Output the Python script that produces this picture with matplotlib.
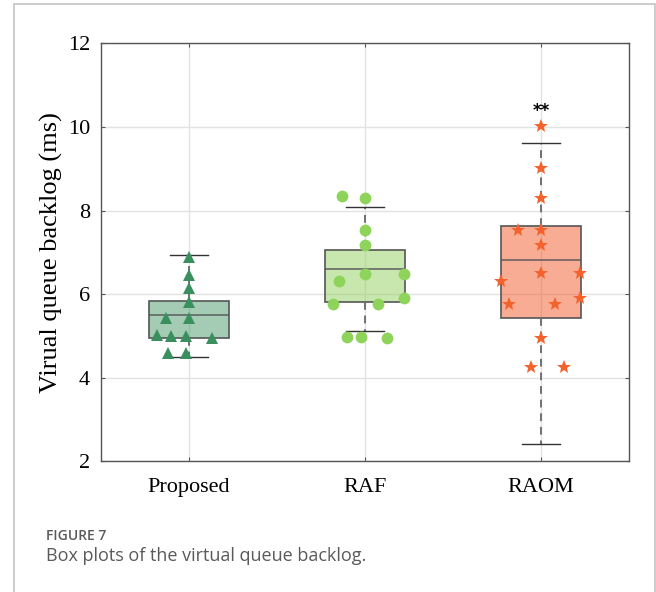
import numpy as np
import matplotlib
matplotlib.use('Agg')
import matplotlib.pyplot as plt
from matplotlib.patches import Rectangle

# groups and box statistics
groups = ['Proposed', 'RAF', 'RAOM']
whislo = [4.50, 5.12, 2.42]
q1 = [4.95, 5.82, 5.42]
med = [5.50, 6.61, 6.82]
q3 = [5.83, 7.05, 7.64]
whishi = [6.93, 8.09, 9.62]

# scattered samples and horizontal jitter
prop_vals = [6.89, 6.46, 6.15, 5.82, 5.44, 5.44, 5.02, 4.99, 4.99, 4.96, 4.58, 4.58]
prop_jit = [0, 0, 0, 0, -0.13, 0, -0.18, -0.10, -0.02, 0.13, -0.12, -0.02]
raf_vals = [8.34, 8.31, 7.54, 7.18, 6.48, 6.48, 6.31, 5.91, 5.76, 5.76, 4.97, 4.97, 4.94]
raf_jit = [-0.13, 0, 0, 0, 0, 0.22, -0.15, 0.22, -0.18, 0.075, -0.10, -0.025, 0.125]
raom_vals = [10.02, 9.01, 8.30, 7.54, 7.54, 7.17, 6.50, 6.50, 6.31, 5.90, 5.77, 5.77, 4.94, 4.25, 4.25]
raom_jit = [0, 0, 0, -0.13, 0, 0, 0, 0.22, -0.225, 0.22, -0.18, 0.08, 0, -0.06, 0.13]

base_cols = ['#4a9a6c', '#93d060', '#f25a2a']
pt_cols = ['#3a8f5e', '#8fd45a', '#f4622d']
markers = ['^', 'o', '*']
msizes = [9, 8.5, 10]

plt.rcParams['font.family'] = ['Liberation Serif', 'DejaVu Serif']

fig = plt.figure(figsize=(6.56, 5.92), dpi=100)
ax = fig.add_axes([0.154, 0.2208, 0.805, 0.706])

stats = []
for i in range(3):
    stats.append(dict(whislo=whislo[i], q1=q1[i], med=med[i], q3=q3[i], whishi=whishi[i], fliers=[]))

bp = ax.bxp(stats, positions=[1, 2, 3], widths=0.45, patch_artist=True,
            showfliers=False,
            whiskerprops=dict(color='#707070', linestyle=(0, (4, 3)), linewidth=1.4),
            capprops=dict(color='#333333', linewidth=1.0),
            medianprops=dict(color='#555555', linewidth=1.2, alpha=0.85),
            boxprops=dict(edgecolor='#555555', linewidth=1.2))
for i, b in enumerate(bp['boxes']):
    fc = matplotlib.colors.to_rgba(base_cols[i], 0.5)
    b.set_facecolor(fc)
    b.set_edgecolor('#555555')
for c in bp['caps']:
    m = np.mean(c.get_xdata())
    c.set_xdata([m - 0.11, m + 0.11])

all_vals = [prop_vals, raf_vals, raom_vals]
all_jit = [prop_jit, raf_jit, raom_jit]
for i in range(3):
    xs = np.array(all_jit[i]) + i + 1
    ax.plot(xs, all_vals[i], linestyle='none', marker=markers[i], markersize=msizes[i],
            color=pt_cols[i], markeredgewidth=0, zorder=4)

ax.text(3, 10.38, '**', ha='center', va='center', fontsize=12, fontweight='bold',
        family='DejaVu Sans', color='black')

ax.set_xlim(0.5, 3.5)
ax.set_ylim(2, 12)
ax.set_yticks([2, 4, 6, 8, 10, 12])
ax.set_xticks([1, 2, 3])
ax.set_xticklabels(groups)
ax.grid(True, color='#e2e2e2', linewidth=1.0)
ax.set_axisbelow(True)
ax.tick_params(direction='in', length=3, width=0.8, color='#555555',
               top=True, right=True, labelsize=16)
ax.tick_params(axis='y', pad=8)
ax.tick_params(axis='x', pad=12)
for s in ax.spines.values():
    s.set_color('#555555')
    s.set_linewidth(1.0)
ax.set_ylabel('Virual queue backlog (ms)', fontsize=19, labelpad=3)

# outer frame and caption
fig.add_artist(Rectangle((14 / 656, -0.02), (655 - 14) / 656, 1 - 4 / 592 + 0.02,
                         transform=fig.transFigure, fill=False, edgecolor='#c4c4c4', linewidth=1.2))
fig.text(46 / 656, 1 - 536 / 592, 'FIGURE 7', family=['Open Sans', 'DejaVu Sans'], fontsize=10,
         fontweight='semibold', color='#5a5a5a', va='center')
fig.text(46 / 656, 1 - 556 / 592, 'Box plots of the virtual queue backlog.',
         family=['Open Sans', 'DejaVu Sans'], fontsize=13, color='#5a5a5a', va='center')

fig.savefig('out.png', dpi=100)
